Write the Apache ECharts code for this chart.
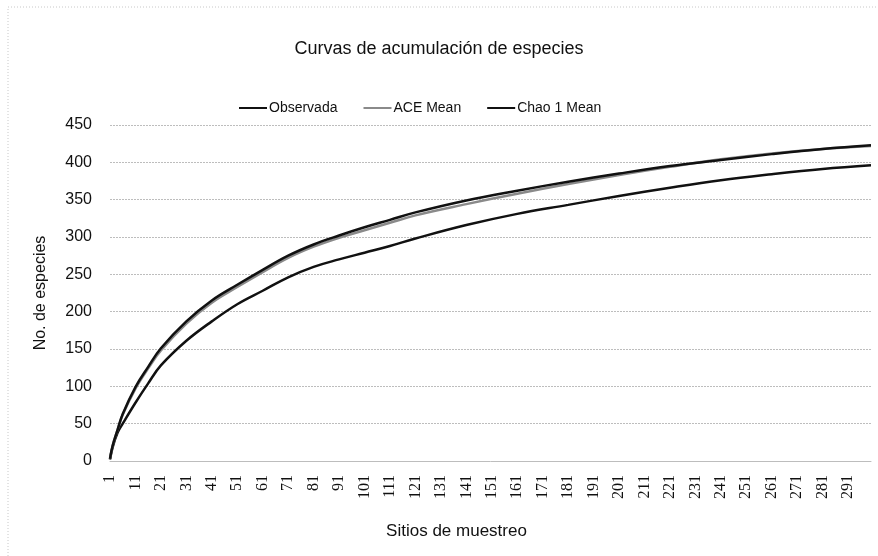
<!DOCTYPE html>
<html>
<head>
<meta charset="utf-8">
<script src="https://cdn.jsdelivr.net/npm/echarts@6/dist/echarts.min.js"></script>
<style>
  html, body { margin: 0; padding: 0; background: #fff; }
  #chart { width: 878px; height: 556px; }
</style>
</head>
<body>
<div id="chart"></div>
<script>
// sampling sites (x axis runs 1..300)
var siteCount = 300
var sites = [1, 2, 4, 6, 11, 16, 21, 31, 41, 51, 61, 71, 81, 91, 101, 111, 121, 141, 161, 181, 201, 221, 241, 261, 281, 300]
var observada = [2, 18, 38, 50, 78, 104, 128, 161, 187, 210, 228, 246, 260, 270, 279, 288, 298, 316, 331, 343, 355, 366, 376, 384, 391, 396]
var aceMean = [3, 20, 42, 62, 97, 124, 148, 184, 212, 233, 253, 272, 287, 299, 309, 319, 329, 344, 358, 371, 383, 394, 404, 412, 418, 422]
var chaoMean = [3, 20, 42, 63, 99, 126, 151, 187, 215, 236, 256, 275, 290, 302, 313, 323, 333, 349, 362, 374, 385, 395, 403, 411, 418, 423]
var yTicks = [0, 50, 100, 150, 200, 250, 300, 350, 400, 450]

var categories = []
for (var i = 1; i <= siteCount; i++) categories.push(String(i))

function pairs (vals) {
  return sites.map(function (s, k) { return [String(s), vals[k]] })
}

var font = 'Liberation Sans'

var chart = echarts.init(document.getElementById('chart'))
chart.setOption({
  backgroundColor: '#fff',
  animation: false,
  graphic: [{
    type: 'rect',
    shape: { x: 8, y: 7, width: 900, height: 600 },
    style: { fill: 'none', stroke: '#c8c8c8', lineWidth: 1, lineDash: [1, 2] }
  }],
  title: {
    text: 'Curvas de acumulación de especies',
    left: 'center',
    top: 35,
    textStyle: {
      fontFamily: font,
      fontSize: 18,
      fontWeight: 'normal',
      color: '#111'
    }
  },
  legend: {
    left: 234,
    top: 96,
    itemWidth: 28,
    itemHeight: 2,
    itemGap: 26,
    icon: 'rect',
    textStyle: {
      fontFamily: font,
      fontSize: 14,
      color: '#111',
      padding: [0, 0, 0, -3]
    },
    data: ['Observada', 'ACE Mean', 'Chao 1 Mean']
  },
  grid: {
    left: 110,
    right: 7,
    top: 125,
    bottom: 95,
    containLabel: false
  },
  xAxis: {
    type: 'category',
    data: categories,
    boundaryGap: false,
    name: 'Sitios de muestreo',
    nameLocation: 'middle',
    nameGap: 62,
    nameTextStyle: {
      fontFamily: font,
      fontSize: 17,
      color: '#111',
      padding: [0, 68, 0, 0]
    },
    axisLine: { show: true, lineStyle: { color: '#bdbdbd', width: 1 } },
    axisTick: { show: false },
    axisLabel: {
      interval: 9,
      rotate: 90,
      margin: 14,
      fontFamily: 'Liberation Serif',
      fontSize: 16,
      color: '#111'
    },
    splitLine: { show: false }
  },
  yAxis: {
    type: 'value',
    min: yTicks[0],
    max: yTicks[yTicks.length - 1],
    interval: 50,
    name: 'No. de especies',
    nameLocation: 'middle',
    nameGap: 61,
    nameTextStyle: {
      fontFamily: font,
      fontSize: 16,
      color: '#111'
    },
    axisLine: { show: false },
    axisTick: { show: false },
    axisLabel: {
      margin: 18,
      fontFamily: font,
      fontSize: 16,
      color: '#111'
    },
    splitLine: { lineStyle: { color: '#bdbdbd', width: 1, type: [2, 1] } }
  },
  series: [
    {
      name: 'Observada',
      type: 'line',
      data: pairs(observada),
      smooth: 0.4,
      showSymbol: false,
      symbol: 'none',
      itemStyle: { color: '#111' },
      lineStyle: { color: '#111', width: 2.5 }
    },
    {
      name: 'ACE Mean',
      type: 'line',
      data: pairs(aceMean),
      smooth: 0.4,
      showSymbol: false,
      symbol: 'none',
      itemStyle: { color: '#8a8a8a' },
      lineStyle: { color: '#8a8a8a', width: 2.5 }
    },
    {
      name: 'Chao 1 Mean',
      type: 'line',
      data: pairs(chaoMean),
      smooth: 0.4,
      showSymbol: false,
      symbol: 'none',
      itemStyle: { color: '#111' },
      lineStyle: { color: '#111', width: 2.5 }
    }
  ]
})
</script>
</body>
</html>
